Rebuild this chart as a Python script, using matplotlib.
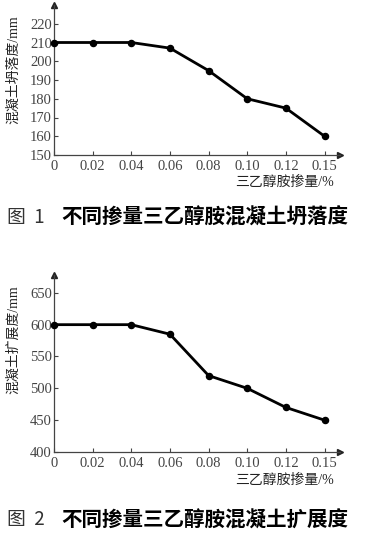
import matplotlib.pyplot as plt

# data
dosage = ['0', '0.02', '0.04', '0.06', '0.08', '0.10', '0.12', '0.15']
slump = [210, 210, 210, 207, 195, 180, 175, 160]
spread = [600, 600, 600, 585, 520, 500, 470, 450]

slump_ticks = [150, 160, 170, 180, 190, 200, 210, 220]
spread_ticks = [400, 450, 500, 550, 600, 650]

num_font = 'Liberation Serif'
mix_font = ['Liberation Serif', 'Noto Sans CJK SC']
cap_font = ['Noto Sans CJK SC', 'DejaVu Sans']
txt_color = '#222222'

fig = plt.figure(figsize=(3.66, 5.42), dpi=100)


def draw_panel(ax, values, yticks, ylim, ylabel, label_y):
    x = list(range(len(dosage)))
    ax.plot(x, values, color='black', lw=2, marker='o', ms=4.4, clip_on=False, zorder=3)
    ax.set_xlim(0, 7.4)
    ax.set_ylim(*ylim)
    ax.set_xticks(x)
    ax.set_xticklabels(dosage, fontfamily=num_font, fontsize=10.5, color=txt_color)
    ax.set_yticks(yticks)
    ax.set_yticklabels([str(t) for t in yticks], fontfamily=num_font, fontsize=10.5, color=txt_color)
    ax.tick_params(direction='in', length=3, width=0.8, pad=1.5, colors='#444444')
    ax.tick_params(axis='x', pad=3.5)
    for s in ['top', 'right']:
        ax.spines[s].set_visible(False)
    for s in ['left', 'bottom']:
        ax.spines[s].set_color('#444444')
        ax.spines[s].set_linewidth(0.9)
    # arrow heads at the axis ends
    ax.plot(1, 0, '>', color='#222222', ms=4, transform=ax.transAxes, clip_on=False)
    ax.plot(0, 1, '^', color='#222222', ms=4, transform=ax.transAxes, clip_on=False)
    fig.text(14 / 366, 1 - label_y / 542, ylabel, rotation=90, ha='center', va='center',
             family=mix_font, fontsize=10, color=txt_color)


ax1 = fig.add_axes([54 / 366, 1 - 155 / 542, 286 / 366, 150 / 542])
draw_panel(ax1, slump, slump_ticks, (150, 230), '混凝土坍落度/mm', 70)
fig.text(334 / 366, 1 - 182 / 542, '三乙醇胺掺量/%', ha='right', va='center',
         family=mix_font, fontsize=10, color=txt_color)

ax2 = fig.add_axes([54 / 366, 1 - 452 / 542, 286 / 366, 177 / 542])
draw_panel(ax2, spread, spread_ticks, (400, 678), '混凝土扩展度/mm', 340)
fig.text(334 / 366, 1 - 480 / 542, '三乙醇胺掺量/%', ha='right', va='center',
         family=mix_font, fontsize=10, color=txt_color)

# captions
for y, num, title in [(217, '1', '不同掺量三乙醇胺混凝土坍落度'),
                      (520, '2', '不同掺量三乙醇胺混凝土扩展度')]:
    fig.text(7 / 366, 1 - y / 542, '图  ' + num, ha='left', va='center',
             family=cap_font, fontsize=13.5, color='#333333')
    fig.text(61 / 366, 1 - y / 542, title, ha='left', va='center',
             family=cap_font, fontsize=14.8, fontweight='bold', color='black')

fig.savefig('out.png', dpi=100)
